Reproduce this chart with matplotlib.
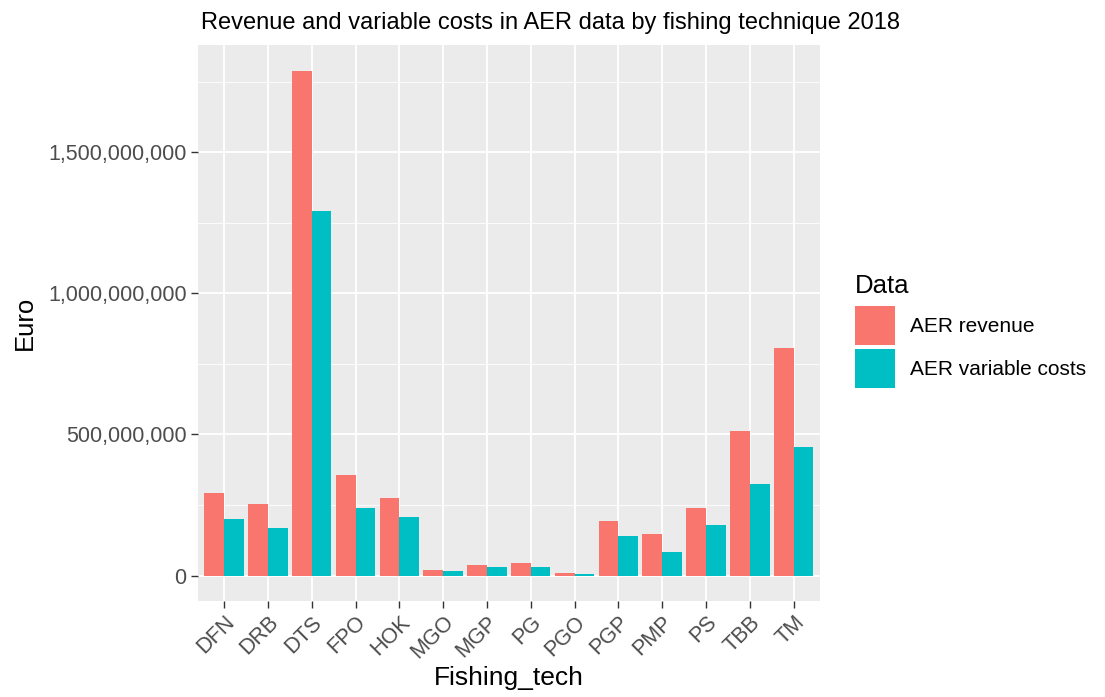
import numpy as np
import matplotlib
matplotlib.use("Agg")
import matplotlib.pyplot as plt
from matplotlib.patches import Patch
from matplotlib.ticker import FuncFormatter, MultipleLocator

# data (Euro)
fishing_tech = ["DFN", "DRB", "DTS", "FPO", "HOK", "MGO", "MGP", "PG",
                "PGO", "PGP", "PMP", "PS", "TBB", "TM"]
aer_revenue = [293e6, 252e6, 1790e6, 356e6, 274e6, 18e6, 37e6, 44e6,
               8e6, 193e6, 148e6, 240e6, 514e6, 807e6]
aer_variable_costs = [200e6, 170e6, 1293e6, 240e6, 209e6, 17e6, 30e6, 30e6,
                      6e6, 141e6, 82e6, 179e6, 324e6, 454e6]
series_names = ["AER revenue", "AER variable costs"]
series_colors = ["#F8766D", "#00BFC4"]

plt.rcParams["font.family"] = ["Liberation Sans", "DejaVu Sans"]

fig = plt.figure(figsize=(11.05, 6.97), dpi=100)
ax = fig.add_axes([0.179, 0.138, 0.563, 0.797])

x = np.arange(len(fishing_tech))
w = 0.45
ax.bar(x - w / 2, aer_revenue, width=w, color=series_colors[0], zorder=3)
ax.bar(x + w / 2, aer_variable_costs, width=w, color=series_colors[1], zorder=3)

# ggplot-like scales
ymax = max(aer_revenue)
ax.set_ylim(-0.05 * ymax, 1.05 * ymax)
ax.set_xlim(-0.6, len(fishing_tech) - 0.4)

ax.set_facecolor("#EBEBEB")
for s in ax.spines.values():
    s.set_visible(False)
ax.yaxis.set_major_locator(MultipleLocator(500e6))
ax.yaxis.set_minor_locator(MultipleLocator(250e6))
ax.yaxis.set_major_formatter(FuncFormatter(lambda v, p: f"{int(v):,}"))
ax.grid(which="major", color="white", linewidth=1.3, zorder=0)
ax.grid(which="minor", axis="y", color="white", linewidth=0.6, zorder=0)
ax.set_axisbelow(True)

ax.set_xticks(x)
ax.set_xticklabels(fishing_tech, rotation=45, ha="right", va="top",
                   rotation_mode="anchor")
ax.tick_params(axis="both", which="major", length=5, width=1, color="#333333",
               labelsize=15.5, labelcolor="#4D4D4D", pad=3)
ax.tick_params(axis="y", which="minor", length=0)

ax.set_xlabel("Fishing_tech", fontsize=19, labelpad=2)
ax.set_ylabel("Euro", fontsize=18.5, labelpad=8)
ax.set_title("Revenue and variable costs in AER data by fishing technique 2018",
             fontsize=17, loc="left", x=0.005, pad=12)

handles = [Patch(facecolor=c, edgecolor="none") for c in series_colors]
leg = fig.legend(handles, series_names, title="Data", loc="upper left",
                 bbox_to_anchor=(0.759, 0.631), frameon=False, fontsize=15,
                 title_fontsize=18.5, handlelength=1.92, handleheight=2.5,
                 handletextpad=0.7, labelspacing=0.2, borderpad=0.3)
leg._legend_box.align = "left"
leg._legend_box.sep = 6

fig.savefig("out.png", dpi=100)
